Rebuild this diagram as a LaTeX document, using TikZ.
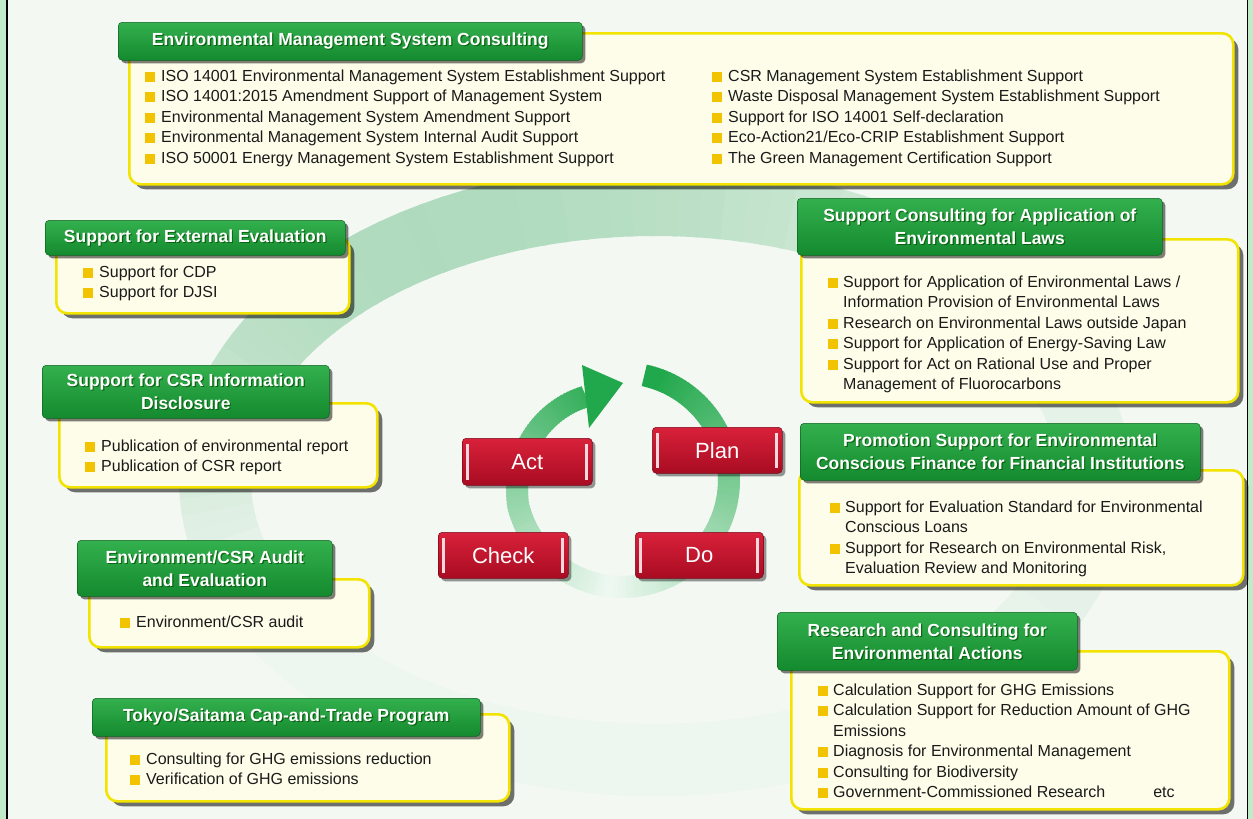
\documentclass[tikz,border=0pt]{standalone}
\usepackage{fontspec}
\setmainfont{Liberation Sans}
\usetikzlibrary{shadows}
\definecolor{bg}{HTML}{F3F8F3}
\definecolor{cream}{HTML}{FDFDEA}
\definecolor{ybord}{HTML}{F2E300}
\definecolor{bulc}{HTML}{F2C300}
\definecolor{hgtop}{HTML}{34B04E}
\definecolor{hgbot}{HTML}{138A2E}
\definecolor{rtop}{HTML}{D9213A}
\definecolor{rbot}{HTML}{A80C22}
\definecolor{arcg}{HTML}{22A84C}
\definecolor{swg}{HTML}{3AA860}
\definecolor{txt}{HTML}{1A1A1A}
\definecolor{stripe}{HTML}{FAD7DC}
\definecolor{edgeg}{HTML}{BFEBC8}
\newcommand\bul{\textcolor{bulc}{\rule[-0.5pt]{10pt}{10pt}}}
\tikzset{
 creambox/.style={draw=ybord, line width=2.6pt, fill=cream, rounded corners=11pt, inner sep=0pt, anchor=north west,
   drop shadow={shadow xshift=5pt, shadow yshift=-5pt, fill=black, opacity=0.55}},
 header/.style={rounded corners=4pt, top color=hgtop, bottom color=hgbot, draw=hgbot!70!black, line width=0.5pt,
   inner sep=0pt, anchor=north west,
   drop shadow={shadow xshift=3pt, shadow yshift=-3pt, fill=black, opacity=0.5}},
 htext/.style={text=white, font=\fontsize{17.5}{23}\selectfont\bfseries, align=center, inner sep=0pt},
 hshadow/.style={htext, text=black!70!green, opacity=0.7},
 items/.style={anchor=base west, inner sep=0pt, text=txt, font=\fontsize{16}{20.5}\selectfont},
 pdca/.style={rounded corners=4pt, top color=rtop, bottom color=rbot, draw=rbot!70!black, line width=0.5pt,
   inner sep=0pt, anchor=north west, text=white, font=\fontsize{22}{25}\selectfont,
   drop shadow={shadow xshift=3pt, shadow yshift=-3pt, fill=black, opacity=0.4}},
}
\newcommand\hdr[6]{%
  \node[header, minimum width=#4pt, minimum height=#5pt] (#1) at (#2,#3) {};
  \node[hshadow] (#1s) at ([shift={(1.2pt,-1.2pt)}]#1.center) {#6};
  \node[htext] (#1t) at (#1.center) {#6};}
\newcommand\stripes[1]{%
  \fill[stripe] ([xshift=4pt,yshift=6pt]#1.south west) rectangle ([xshift=7pt,yshift=-6pt]#1.north west);
  \fill[stripe] ([xshift=-8pt,yshift=6pt]#1.south east) rectangle ([xshift=-5pt,yshift=-6pt]#1.north east);}
\begin{document}
\begin{tikzpicture}[x=1pt,y=1pt]
\useasboundingbox (0,0) rectangle (1253,-819);
\fill[bg] (0,0) rectangle (1253,-819);
% background swirl
\foreach \a in {0,3,...,357}{
  \pgfmathtruncatemacro\f{3+34*max(0,cos(\a-120))^1.5+6*max(0,cos(\a-20))}
  \draw[line width=72pt, color=swg!\f!bg] (655,-480) ++(\a:440pt and 280pt)
    arc[start angle=\a, end angle=\a+3.6, x radius=440pt, y radius=280pt];
}
% outer frame
\fill[edgeg] (0,0) rectangle (6,-819);
\fill[edgeg] (1248,0) rectangle (1253,-819);
\draw[black, line width=1.6pt] (7,0) -- (7,-819);
\draw[black, line width=1.6pt] (1247.5,0) -- (1247.5,-819);
% cream boxes
\node[creambox, minimum width=1104pt, minimum height=151pt] (b1) at (128,-32) {};
\node[creambox, minimum width=293pt, minimum height=76pt] (b2) at (55,-236) {};
\node[creambox, minimum width=318pt, minimum height=84pt] (b3) at (58,-402) {};
\node[creambox, minimum width=280pt, minimum height=68pt] (b4) at (88,-578) {};
\node[creambox, minimum width=403pt, minimum height=87pt] (b5) at (105,-713) {};
\node[creambox, minimum width=437pt, minimum height=163pt] (b6) at (800,-238) {};
\node[creambox, minimum width=444pt, minimum height=115pt] (b7) at (798,-469) {};
\node[creambox, minimum width=438pt, minimum height=158pt] (b8) at (790,-650) {};
% headers
\hdr{h1}{118}{-22}{464}{38}{Environmental Management System Consulting}
\hdr{h2}{45}{-220}{300}{35}{Support for External Evaluation}
\hdr{h3}{42}{-365}{287}{53}{Support for CSR Information\\Disclosure}
\hdr{h4}{77}{-540}{255}{56}{Environment/CSR Audit\\and Evaluation}
\hdr{h5}{92}{-698}{388}{38}{Tokyo/Saitama Cap-and-Trade Program}
\hdr{h6}{797}{-198}{365}{57}{Support Consulting for Application of\\Environmental Laws}
\hdr{h7}{800}{-423}{400}{57}{Promotion Support for Environmental\\Conscious Finance for Financial Institutions}
\hdr{h8}{777}{-612}{300}{58}{Research and Consulting for\\Environmental Actions}
% items
\node[items] (i1a) at (145,-81) {\begin{tabular}[t]{@{}l@{\hspace{6pt}}l@{}}
\bul & ISO 14001 Environmental Management System Establishment Support\\
\bul & ISO 14001:2015 Amendment Support of Management System\\
\bul & Environmental Management System Amendment Support\\
\bul & Environmental Management System Internal Audit Support\\
\bul & ISO 50001 Energy Management System Establishment Support
\end{tabular}};
\node[items] (i1b) at (712,-81) {\begin{tabular}[t]{@{}l@{\hspace{6pt}}l@{}}
\bul & CSR Management System Establishment Support\\
\bul & Waste Disposal Management System Establishment Support\\
\bul & Support for ISO 14001 Self-declaration\\
\bul & Eco-Action21/Eco-CRIP Establishment Support\\
\bul & The Green Management Certification Support
\end{tabular}};
\node[items] (i2) at (83,-277) {\begin{tabular}[t]{@{}l@{\hspace{6pt}}l@{}}
\bul & Support for CDP\\
\bul & Support for DJSI
\end{tabular}};
\node[items] (i3) at (85,-451) {\begin{tabular}[t]{@{}l@{\hspace{6pt}}l@{}}
\bul & Publication of environmental report\\
\bul & Publication of CSR report
\end{tabular}};
\node[items] (i4) at (120,-627) {\begin{tabular}[t]{@{}l@{\hspace{6pt}}l@{}}
\bul & Environment/CSR audit
\end{tabular}};
\node[items] (i5) at (130,-764) {\begin{tabular}[t]{@{}l@{\hspace{6pt}}l@{}}
\bul & Consulting for GHG emissions reduction\\
\bul & Verification of GHG emissions
\end{tabular}};
\node[items] (i6) at (828,-287) {\begin{tabular}[t]{@{}l@{\hspace{5pt}}l@{}}
\bul & Support for Application of Environmental Laws /\\
 & Information Provision of Environmental Laws\\
\bul & Research on Environmental Laws outside Japan\\
\bul & Support for Application of Energy-Saving Law\\
\bul & Support for Act on Rational Use and Proper\\
 & Management of Fluorocarbons
\end{tabular}};
\node[items] (i7) at (830,-512) {\begin{tabular}[t]{@{}l@{\hspace{5pt}}l@{}}
\bul & Support for Evaluation Standard for Environmental\\
 & Conscious Loans\\
\bul & Support for Research on Environmental Risk,\\
 & Evaluation Review and Monitoring
\end{tabular}};
\node[items] (i8) at (818,-695) {\begin{tabular}[t]{@{}l@{\hspace{5pt}}l@{}}
\bul & Calculation Support for GHG Emissions\\
\bul & Calculation Support for Reduction Amount of GHG\\
 & Emissions\\
\bul & Diagnosis for Environmental Management\\
\bul & Consulting for Biodiversity\\
\bul & Government-Commissioned Research\hspace{3em}etc
\end{tabular}};
% PDCA cycle arrow (slight inward spiral at the end)
\foreach \a in {78,76,...,-244}{
  \pgfmathtruncatemacro\f{min(100,8+92*abs(\a+95)/165)}
  \pgfmathsetmacro\r{\a>-165 ? 107 : 107-(-165-\a)*16/80}
  \draw[line width=22pt, color=arcg!\f!white] (622,-480) ++(\a:\r pt)
    arc[start angle=\a, end angle=\a-2.8, radius=\r pt];
}
\coordinate (tip) at (623,-383);
\coordinate (hb1) at (582,-365);
\coordinate (hb2) at (589,-428);
\fill[arcg] (hb1) -- (tip) -- (hb2) -- cycle;
% PDCA boxes
\node[pdca, minimum width=130pt, minimum height=47pt] (act) at (462,-438) {Act};
\node[pdca, minimum width=130pt, minimum height=46pt] (plan) at (652,-427) {Plan};
\node[pdca, minimum width=130pt, minimum height=46pt] (check) at (438,-532) {Check};
\node[pdca, minimum width=128pt, minimum height=46pt] (pdo) at (635,-532) {Do};
\stripes{act}\stripes{plan}\stripes{check}\stripes{pdo}
\end{tikzpicture}
\end{document}
